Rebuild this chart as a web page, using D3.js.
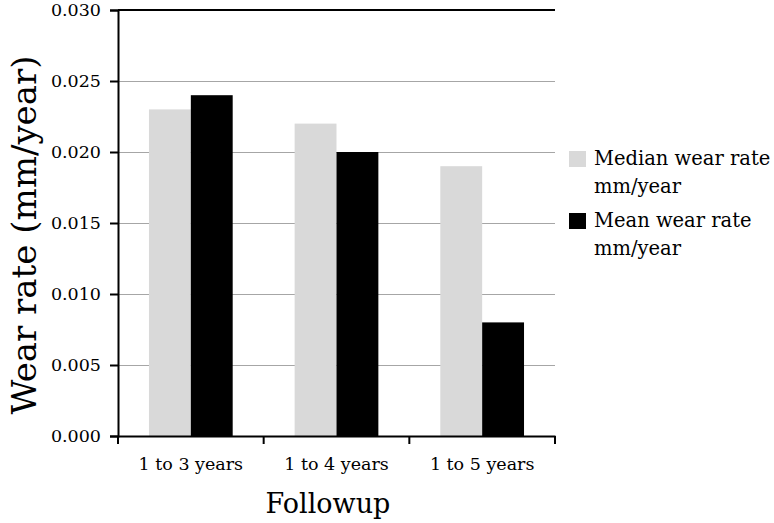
<!DOCTYPE html>
<html>
<head>
<meta charset="utf-8">
<script src="https://cdn.jsdelivr.net/npm/d3@7"></script>
<style>
  body { margin: 0; background: #fff; }
  text { font-family: "DejaVu Serif", serif; fill: #000; }
</style>
</head>
<body>
<div id="chart"></div>
<script>
// data
var categories = ["1 to 3 years", "1 to 4 years", "1 to 5 years"];
var seriesNames = ["Median wear rate mm/year", "Mean wear rate mm/year"];
var medianRate = [0.023, 0.022, 0.019];
var meanRate = [0.024, 0.020, 0.008];
var yTicks = [0, 0.005, 0.010, 0.015, 0.020, 0.025, 0.030];

var W = 774, H = 523;
var margin = {left: 118, right: 219, top: 10, bottom: 87};
var colors = ["#d9d9d9", "#000000"];

var svg = d3.select("#chart")
  .append("svg")
  .attr("width", W)
  .attr("height", H);

var x = d3.scaleBand()
  .domain(categories)
  .range([margin.left, W - margin.right]);

var inner = d3.scaleBand()
  .domain([0, 1])
  .range([0, x.bandwidth()])
  .paddingOuter(0.74)
  .paddingInner(0);

var y = d3.scaleLinear()
  .domain([0, 0.030])
  .range([H - margin.bottom, margin.top]);

// gridlines
svg.append("g")
  .selectAll("line")
  .data(yTicks.slice(1, -1))
  .enter().append("line")
  .attr("x1", margin.left)
  .attr("x2", W - margin.right)
  .attr("y1", function(d) { return y(d) + 0.5; })
  .attr("y2", function(d) { return y(d) + 0.5; })
  .style("stroke", "#a6a6a6")
  .style("stroke-width", 1);

// top line at 0.030
svg.append("line")
  .attr("x1", margin.left)
  .attr("x2", W - margin.right)
  .attr("y1", y(0.030))
  .attr("y2", y(0.030))
  .style("stroke", "#000")
  .style("stroke-width", 2);

// bars
var rows = categories.map(function(c, i) {
  return {cat: c, vals: [medianRate[i], meanRate[i]]};
});

var groups = svg.append("g")
  .selectAll("g")
  .data(rows)
  .enter().append("g")
  .attr("transform", function(d) { return "translate(" + x(d.cat) + ",0)"; });

groups.selectAll("rect")
  .data(function(d) { return d.vals; })
  .enter().append("rect")
  .attr("x", function(d, i) { return inner(i); })
  .attr("width", inner.bandwidth())
  .attr("y", function(d) { return y(d); })
  .attr("height", function(d) { return y(0) - y(d); })
  .style("fill", function(d, i) { return colors[i]; });

// y axis
var yAxis = svg.append("g")
  .attr("transform", "translate(" + margin.left + ",0)")
  .call(d3.axisLeft(y)
    .tickValues(yTicks)
    .tickFormat(d3.format(".3f"))
    .tickSize(8)
    .tickPadding(9));
yAxis.select(".domain").style("stroke-width", 2);
yAxis.selectAll(".tick line").style("stroke-width", 2);
yAxis.selectAll("text")
  .style("font-family", "DejaVu Serif")
  .style("font-size", "17.5px");

// x axis
var xAxis = svg.append("g")
  .attr("transform", "translate(0," + y(0) + ")")
  .call(d3.axisBottom(x).tickSize(0).tickPadding(22));
xAxis.select(".domain").style("stroke-width", 2);
xAxis.selectAll("text")
  .style("font-family", "DejaVu Serif")
  .style("font-size", "17.5px");

// category boundary ticks
var bounds = categories.map(function(c) { return x(c); }).concat([x.range()[1]]);
xAxis.selectAll(".bound")
  .data(bounds)
  .enter().append("line")
  .attr("class", "bound")
  .attr("x1", function(d) { return d; })
  .attr("x2", function(d) { return d; })
  .attr("y1", 0)
  .attr("y2", 8)
  .style("stroke", "#000")
  .style("stroke-width", 2);

// axis titles
svg.append("text")
  .attr("x", 328)
  .attr("y", 513)
  .attr("text-anchor", "middle")
  .style("font-size", "27px")
  .text("Followup");

svg.append("text")
  .attr("transform", "translate(36,235) rotate(-90)")
  .attr("text-anchor", "middle")
  .style("font-size", "34px")
  .text("Wear rate (mm/year)");

// legend
var legend = svg.append("g")
  .attr("transform", "translate(569,151)");

var items = legend.selectAll("g")
  .data(seriesNames)
  .enter().append("g")
  .attr("transform", function(d, i) { return "translate(0," + i * 62 + ")"; });

items.append("rect")
  .attr("width", 17)
  .attr("height", 16)
  .style("fill", function(d, i) { return colors[i]; });

items.append("text")
  .attr("x", 25)
  .attr("y", 14)
  .style("font-size", "19.5px")
  .selectAll("tspan")
  .data(function(d) {
    var k = d.indexOf(" mm/");
    return [d.slice(0, k), d.slice(k + 1)];
  })
  .enter().append("tspan")
  .attr("x", 25)
  .attr("dy", function(d, i) { return i ? 28 : 0; })
  .text(function(d) { return d; });
</script>
</body>
</html>
